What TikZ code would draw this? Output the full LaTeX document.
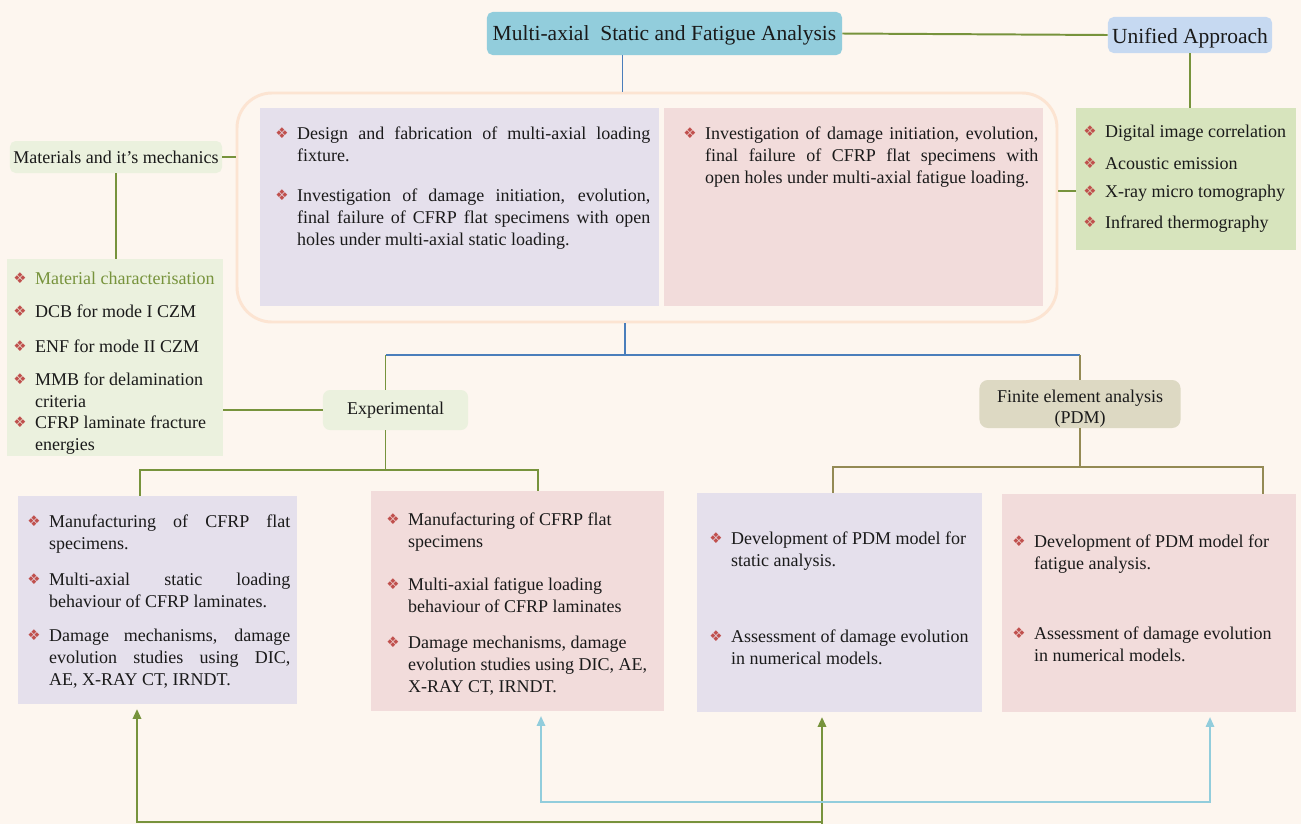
\documentclass[tikz,border=0pt]{standalone}
\usepackage{fontspec}
\setmainfont{Liberation Serif}
\newfontfamily\dejavu{DejaVu Sans}
\usetikzlibrary{fit,arrows.meta}

\definecolor{bgcream}{HTML}{FDF6EF}
\definecolor{titleblue}{HTML}{92CDDC}
\definecolor{unifblue}{HTML}{C6D9F1}
\definecolor{palegreen}{HTML}{EBF1DE}
\definecolor{ndtgreen}{HTML}{D7E4BD}
\definecolor{lavbox}{HTML}{E5E0EC}
\definecolor{pinkbox}{HTML}{F2DCDB}
\definecolor{feabox}{HTML}{DDD9C3}
\definecolor{framepeach}{HTML}{FCE4D2}
\definecolor{lineolive}{HTML}{77933C}
\definecolor{linenavy}{HTML}{4A7EBB}
\definecolor{linebrown}{HTML}{948A54}
\definecolor{lineaqua}{HTML}{92CDDC}
\definecolor{bulred}{HTML}{C0504D}
\definecolor{txtblack}{HTML}{1A1A1A}

\newlength{\hng}\setlength{\hng}{15.6pt}
\newcommand{\bodyfont}{\fontsize{12.8pt}{15.65pt}\selectfont}
\newcommand{\bul}{\raisebox{0.4pt}{\dejavu\fontsize{10.5pt}{10.5pt}\selectfont\color{bulred}❖}}
\newcommand{\itm}[2][0pt]{\par\vspace{#1}\noindent\hangindent=\hng\hangafter=1\strut\makebox[\hng][l]{\bul}#2\par}

\begin{document}
\begin{tikzpicture}[x=0.025cm,y=-0.025cm,>={Triangle[width=6pt,length=7pt]},
    box/.style={inner sep=0pt,draw=none},
    lav/.style={box,fill=lavbox},
    pink/.style={box,fill=pinkbox},
    pale/.style={box,fill=palegreen},
    head/.style={rounded corners=4pt,inner sep=0pt,text=txtblack},
    txt/.style={anchor=north west,inner sep=0pt,align=justify,font=\bodyfont,text=txtblack},
    gln/.style={draw=lineolive,line width=1.4pt},
    bln/.style={draw=linenavy,line width=1.3pt},
    brn/.style={draw=linebrown,line width=1.4pt},
    aln/.style={draw=lineaqua,line width=1.2pt}]

    \fill[bgcream] (0,0) rectangle (1301,824);
    \useasboundingbox (0,0) rectangle (1301,824);

    \node[head,fill=titleblue,minimum width=8.875cm,minimum height=1.075cm,font=\fontsize{15.3pt}{18pt}\selectfont] (title) at (664.5,33.5) {\raisebox{-1pt}[\height][\depth]{Multi-axial\enspace Static and Fatigue Analysis}};
    \node[head,fill=unifblue,minimum width=4.1cm,minimum height=0.9cm,font=\fontsize{15.3pt}{18pt}\selectfont] (unif) at (1190,35) {\raisebox{-2pt}[\height][\depth]{Unified Approach}};
    \node[head,fill=palegreen,minimum width=5.3cm,minimum height=0.8cm,font=\bodyfont] (mat) at (116,157) {Materials and it’s mechanics};
    \node[head,fill=palegreen,rounded corners=5pt,minimum width=3.625cm,minimum height=1cm,font=\bodyfont] (exp) at (395.5,410) {Experimental};
    \node[head,fill=feabox,rounded corners=6pt,minimum width=5.025cm,minimum height=1.2cm,font=\fontsize{12.8pt}{14.8pt}\selectfont] (fea) at (1080,404) {\raisebox{-3.5pt}[\height][\depth]{\begin{tabular}{@{}c@{}}Finite element analysis\\(PDM)\end{tabular}}};

    \node[box,draw=framepeach,line width=2.1pt,rounded corners=0.875cm,fit={(237,93) (1057,322)}] (frm) {};
    \node[lav,fit={(260,108) (659,306)}] (tl) {};
    \node[pink,fit={(664,108) (1043,306)}] (tp) {};
    \node[box,fill=ndtgreen,fit={(1076,108) (1296,250)}] (ndt) {};
    \node[pale,fit={(7,259) (223,456)}] (mlst) {};
    \node[lav,fit={(18,496) (297,704)}] (ll) {};
    \node[pink,fit={(371,491) (664,711)}] (mp) {};
    \node[lav,fit={(697,493) (982,712)}] (fl) {};
    \node[pink,fit={(1002,494) (1296,712)}] (fp) {};

    \coordinate (split) at (625,355);
    \coordinate (expin) at ([xshift=-0.25cm]exp.north);
    \coordinate (expout) at ([xshift=-0.25cm]exp.south);
    \coordinate (llin) at (140,470);
    \coordinate (mpin) at (538,470);
    \coordinate (flin) at (833,467);
    \coordinate (fpin) at (1263,467);
    \coordinate (gsrc) at (822,824);
    \coordinate (gleft) at (137,822);
    \coordinate (aleft) at (541,802);
    \coordinate (aright) at (1210,802);

    \draw[gln] (title.east) -- (unif.west);
    \draw[gln] (unif.south) -- (unif.south |- ndt.north);
    \draw[bln] ([xshift=-1.05cm]title.south) -- ([xshift=-1.05cm]title.south |- frm.north);
    \draw[gln] (mat.east) -- (mat.east -| frm.west);
    \draw[gln] (mat.south) -- (mat.south |- mlst.north);
    \draw[gln] ([yshift=-0.3cm]ndt.west) -- ([yshift=-0.3cm]ndt.west -| frm.east);
    \draw[bln] (frm.south -| split) -- (split);
    \draw[bln] (split -| expin) -- (split -| fea.north);
    \draw[gln] (split -| expin) -- (expin);
    \draw[brn] (split -| fea.north) -- (fea.north);
    \draw[gln] (mlst.east |- exp.west) -- (exp.west);
    \draw[gln] (expout) -- (expout |- llin);
    \draw[gln] (ll.north -| llin) -- (llin) -- (mpin) -- (mp.north -| mpin);
    \draw[brn] (fea.south) -- (fea.south |- flin);
    \draw[brn] (fl.north -| flin) -- (flin) -- (fpin) -- (fp.north -| fpin);
    \draw[gln,->] (gsrc) -- ([yshift=-0.12cm]fl.south -| gsrc);
    \draw[gln,->] (gsrc |- gleft) -- (gleft) -- ([yshift=-0.12cm]ll.south -| gleft);
    \draw[aln,<->] ([yshift=-0.12cm]mp.south -| aleft) -- (aleft) -- (aright) -- ([yshift=-0.12cm]fp.south -| aright);

    \node[txt,text width=9.375cm] (tlt) at (275,117) {%
      \itm{Design and fabrication of multi-axial loading\linebreak fixture.}
      \itm[12.8pt]{Investigation of damage initiation, evolution,\linebreak final failure of CFRP flat specimens with open\linebreak holes under multi-axial static loading.}};
    \node[txt,text width=8.875cm] (tpt) at (683,117) {%
      \itm{Investigation of damage initiation, evolution,\linebreak final failure of CFRP flat specimens with\linebreak open holes under multi-axial fatigue loading.}};
    \node[txt,text width=5.3cm] (ndtt) at (1083,115) {%
      \itm{Digital image correlation}
      \itm[7pt]{Acoustic emission}
      \itm[4.3pt]{X-ray micro tomography}
      \itm[6.4pt]{Infrared thermography}};
    \node[txt,text width=5.2cm] (mlt) at (13,262) {%
      \itm{\textcolor{lineolive}{Material characterisation}}
      \itm[7.8pt]{DCB for mode I CZM}
      \itm[9.2pt]{ENF for mode II CZM}
      \itm[7.8pt]{MMB for delamination\newline criteria}
      \itm[-0.7pt]{CFRP laminate fracture\newline energies}};
    \node[txt,text width=6.575cm] (llt) at (27,505) {%
      \itm{Manufacturing of CFRP flat\linebreak specimens.}
      \itm[10pt]{Multi-axial static loading\linebreak behaviour of CFRP laminates.}
      \itm[8.5pt]{Damage mechanisms, damage\linebreak evolution studies using DIC,\linebreak AE, X-RAY CT, IRNDT.}};
    \node[txt,text width=6.85cm] (mpt) at (386,503) {%
      \itm{Manufacturing of CFRP flat\newline specimens}
      \itm[15pt]{Multi-axial fatigue loading\newline behaviour of CFRP laminates}
      \itm[10pt]{Damage mechanisms, damage\newline evolution studies using DIC, AE,\newline X-RAY CT, IRNDT.}};
    \node[txt,text width=6.65cm] (flt) at (709,522) {%
      \itm{Development of PDM model for\newline static analysis.}
      \itm[38.4pt]{Assessment of damage evolution\newline in numerical models.}};
    \node[txt,text width=6.85cm] (fpt) at (1012,525) {%
      \itm{Development of PDM model for\newline fatigue analysis.}
      \itm[34pt]{Assessment of damage evolution\newline in numerical models.}};
\end{tikzpicture}
\end{document}
